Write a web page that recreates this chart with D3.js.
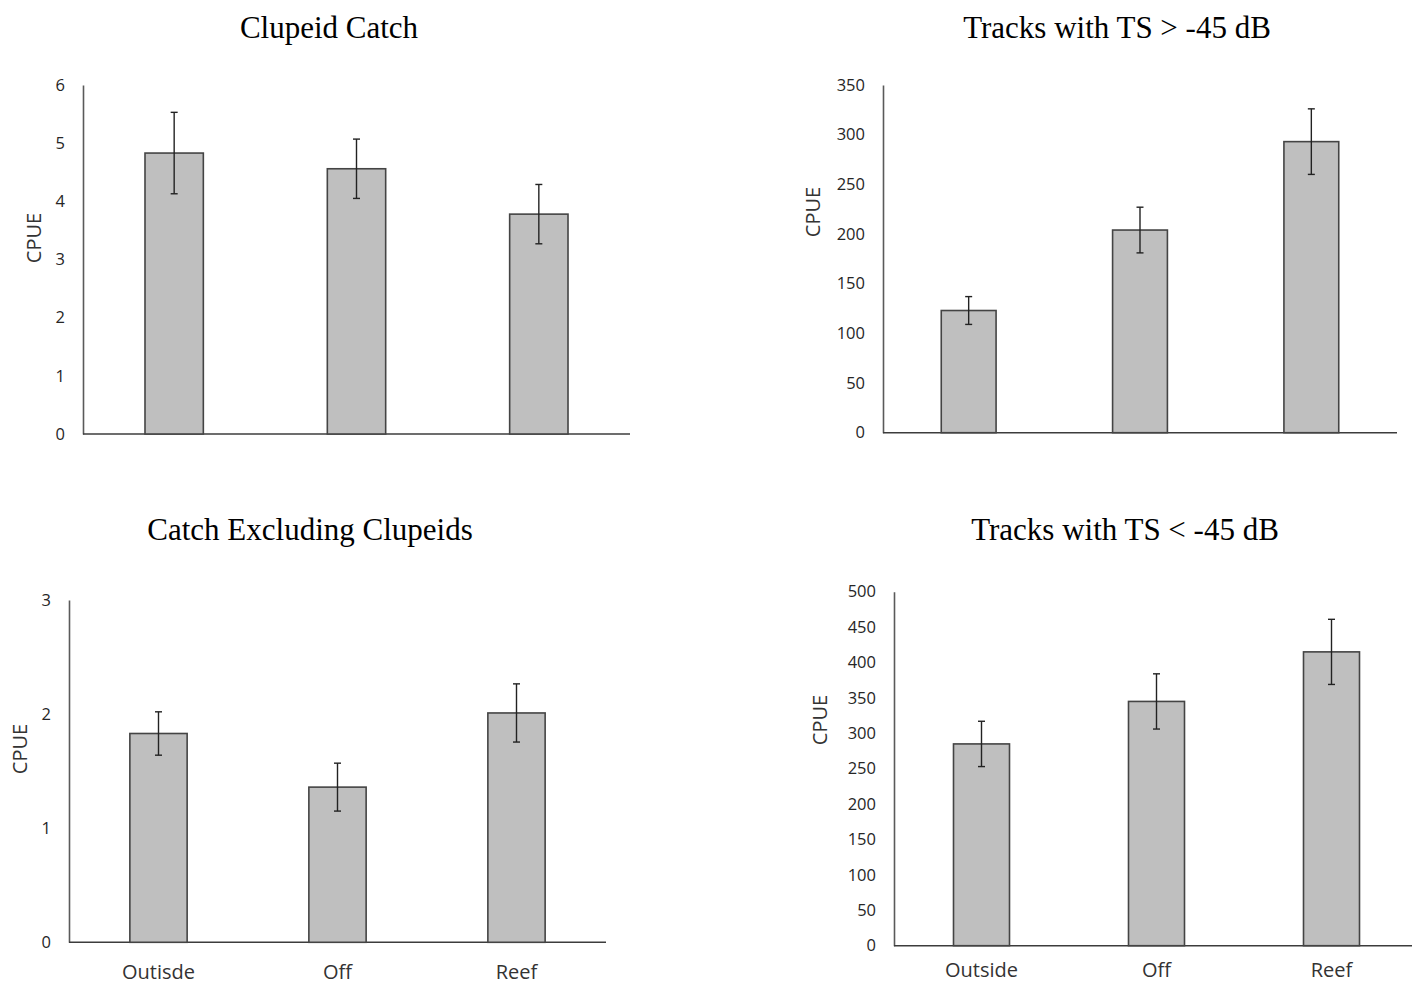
<!DOCTYPE html>
<html>
<head>
<meta charset="utf-8">
<script src="https://cdn.jsdelivr.net/npm/d3@7/dist/d3.min.js"></script>
<style>
  html, body { margin: 0; padding: 0; background: #fff; }
  svg { display: block; }
</style>
</head>
<body>
<svg id="fig" width="1412" height="989"></svg>
<script>
// Sites sampled (bottom-left labels keep the original spelling)
const sitesLeft = ["Outisde", "Off", "Reef"];
const sitesRight = ["Outside", "Off", "Reef"];

// Clupeid catch: mean CPUE and standard error
const clupeidMean = [4.83, 4.56, 3.78];
const clupeidErr = [0.70, 0.51, 0.51];
const clupeidTicks = [0, 1, 2, 3, 4, 5, 6];

// Acoustic tracks with TS > -45 dB
const largeMean = [123, 204, 293];
const largeErr = [14, 23, 33];
const largeTicks = [0, 50, 100, 150, 200, 250, 300, 350];

// Catch excluding clupeids
const otherMean = [1.83, 1.36, 2.01];
const otherErr = [0.19, 0.21, 0.255];
const otherTicks = [0, 1, 2, 3];

// Acoustic tracks with TS < -45 dB
const smallMean = [285, 345, 415];
const smallErr = [32, 39, 46];
const smallTicks = [0, 50, 100, 150, 200, 250, 300, 350, 400, 450, 500];

const svg = d3.select("#fig");

function panel(cfg) {
  const g = svg.append("g");
  const x = d3.scaleBand()
    .domain(cfg.sites)
    .range([cfg.x0, cfg.x1])
    .paddingInner(0.68)
    .paddingOuter(0.34);
  const y = d3.scaleLinear()
    .domain([0, d3.max(cfg.ticks)])
    .range([cfg.yBase, cfg.yTop]);

  // title
  g.append("text")
    .attr("x", cfg.titleX).attr("y", cfg.titleY)
    .attr("text-anchor", "middle")
    .style("font-family", "'Liberation Serif', 'Times New Roman', serif")
    .style("font-size", "31px")
    .style("fill", "#000")
    .text(cfg.title);

  // y axis
  const ya = g.append("g")
    .attr("transform", `translate(${cfg.x0},0)`)
    .call(d3.axisLeft(y).tickValues(cfg.ticks).tickSize(0).tickPadding(18).tickFormat(d3.format("d")));
  ya.select(".domain").attr("stroke", "#5a5a5a").attr("stroke-width", 1.6);
  ya.selectAll("text")
    .style("font-family", "'Open Sans', sans-serif")
    .style("font-size", "16.5px")
    .style("fill", "#262626");

  // x axis line
  const xa = g.append("g")
    .attr("transform", `translate(0,${cfg.yBase})`)
    .call(d3.axisBottom(x).tickSize(0).tickPadding(cfg.labelPad).tickFormat(cfg.showLabels ? (d => d) : () => ""));
  xa.select(".domain").attr("stroke", "#3c3c3c").attr("stroke-width", 1.6)
    .attr("d", `M${cfg.x0},0H${cfg.x1}`);
  xa.selectAll("text")
    .style("font-family", "'Open Sans', sans-serif")
    .style("font-size", "20px")
    .style("fill", "#333");

  // y axis title
  g.append("text")
    .attr("transform", `translate(${cfg.cpueX},${cfg.cpueY}) rotate(-90)`)
    .attr("text-anchor", "middle")
    .attr("dominant-baseline", "central")
    .style("font-family", "'Open Sans', sans-serif")
    .style("font-size", "20px")
    .style("fill", "#333")
    .text("CPUE");

  const data = cfg.sites.map((s, i) => ({ site: s, mean: cfg.mean[i], err: cfg.err[i] }));

  // bars
  g.selectAll("rect.bar").data(data).join("rect")
    .attr("class", "bar")
    .attr("x", d => x(d.site))
    .attr("y", d => y(d.mean))
    .attr("width", x.bandwidth())
    .attr("height", d => y(0) - y(d.mean))
    .attr("fill", "#bfbfbf")
    .attr("stroke", "#444")
    .attr("stroke-width", 1.6);

  // error bars
  const cap = 3.5;
  const eb = g.selectAll("g.err").data(data).join("g").attr("class", "err")
    .attr("stroke", "#222").attr("stroke-width", 1.4);
  eb.append("line")
    .attr("x1", d => x(d.site) + x.bandwidth() / 2)
    .attr("x2", d => x(d.site) + x.bandwidth() / 2)
    .attr("y1", d => y(d.mean + d.err))
    .attr("y2", d => y(d.mean - d.err));
  eb.append("line")
    .attr("x1", d => x(d.site) + x.bandwidth() / 2 - cap)
    .attr("x2", d => x(d.site) + x.bandwidth() / 2 + cap)
    .attr("y1", d => y(d.mean + d.err))
    .attr("y2", d => y(d.mean + d.err));
  eb.append("line")
    .attr("x1", d => x(d.site) + x.bandwidth() / 2 - cap)
    .attr("x2", d => x(d.site) + x.bandwidth() / 2 + cap)
    .attr("y1", d => y(d.mean - d.err))
    .attr("y2", d => y(d.mean - d.err));
}

panel({
  title: "Clupeid Catch", titleX: 329, titleY: 38,
  sites: sitesLeft, mean: clupeidMean, err: clupeidErr, ticks: clupeidTicks,
  x0: 83, x1: 630, yTop: 85, yBase: 434,
  cpueX: 33, cpueY: 238, showLabels: false, labelPad: 30
});

panel({
  title: "Tracks with TS > -45 dB", titleX: 1117, titleY: 38,
  sites: sitesRight, mean: largeMean, err: largeErr, ticks: largeTicks,
  x0: 883, x1: 1397, yTop: 85, yBase: 432.7,
  cpueX: 812, cpueY: 212, showLabels: false, labelPad: 30
});

panel({
  title: "Catch Excluding Clupeids", titleX: 310, titleY: 540,
  sites: sitesLeft, mean: otherMean, err: otherErr, ticks: otherTicks,
  x0: 69, x1: 606, yTop: 600, yBase: 942.3,
  cpueX: 19, cpueY: 749, showLabels: true, labelPad: 23
});

panel({
  title: "Tracks with TS < -45 dB", titleX: 1125, titleY: 540,
  sites: sitesRight, mean: smallMean, err: smallErr, ticks: smallTicks,
  x0: 894, x1: 1419, yTop: 591.7, yBase: 945.7,
  cpueX: 819, cpueY: 720, showLabels: true, labelPad: 17
});
</script>
</body>
</html>
